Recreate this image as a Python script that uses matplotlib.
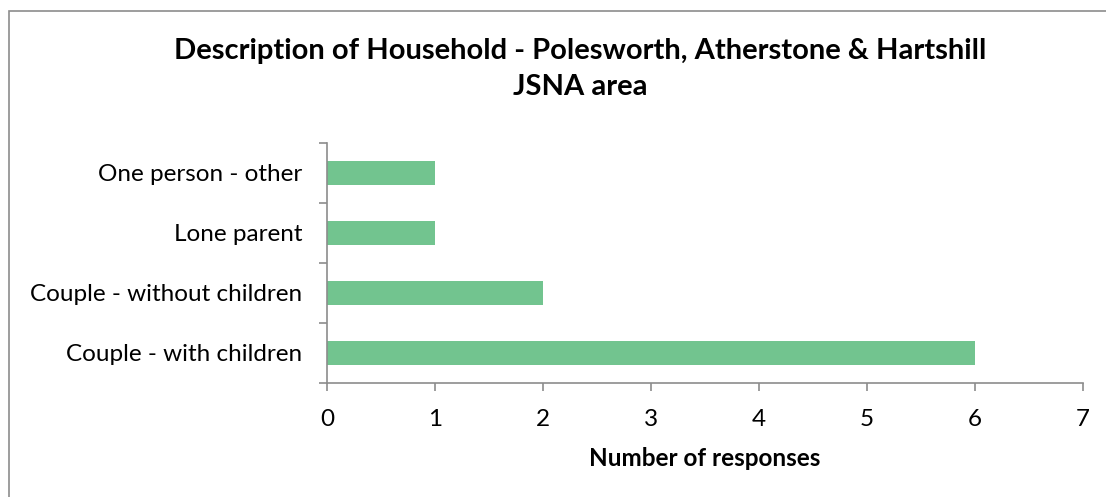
import matplotlib.pyplot as plt
from matplotlib.patches import Rectangle

plt.rcParams['font.family'] = ['Lato', 'DejaVu Sans']

categories = ['Couple - with children', 'Couple - without children', 'Lone parent', 'One person - other']
responses = [6, 2, 1, 1]
x_ticks = [0, 1, 2, 3, 4, 5, 6, 7]

bar_color = '#72C48F'
axis_color = '#8C8C8C'

fig = plt.figure(figsize=(11.06, 4.97), dpi=100)
ax = fig.add_axes([0.2957, 0.2294, 0.6835, 0.4829])

ax.barh(range(len(categories)), responses, height=0.4, color=bar_color)
ax.set_xlim(0, 7)
ax.set_ylim(-0.5, len(categories) - 0.5)
ax.set_xticks(x_ticks)
ax.tick_params(axis='x', length=6, width=1.2, color=axis_color, labelsize=17.5, pad=13)

# category labels sit between the tick marks
ax.set_yticks([i - 0.5 for i in range(len(categories) + 1)])
ax.set_yticklabels([])
ax.set_yticks(range(len(categories)), minor=True)
ax.set_yticklabels(categories, minor=True, fontsize=17.5)
ax.tick_params(axis='y', which='major', length=6, width=1.2, color=axis_color)
ax.tick_params(axis='y', which='minor', length=0, pad=18)

for side in ['top', 'right']:
    ax.spines[side].set_visible(False)
for side in ['left', 'bottom']:
    ax.spines[side].set_color(axis_color)
    ax.spines[side].set_linewidth(1.2)

ax.set_xlabel('Number of responses', fontsize=17.5, fontweight='bold', labelpad=12)

fig.text(0.525, 0.861, 'Description of Household - Polesworth, Atherstone & Hartshill\nJSNA area',
         ha='center', va='center', fontsize=21, fontweight='bold', linespacing=1.45)

fig.patches.append(Rectangle((9 / 1106, -0.05), 1.2, 1 - 11 / 497 + 0.05, transform=fig.transFigure,
                             fill=False, edgecolor='#8C8C8C', linewidth=1.2))

fig.savefig('out.png', dpi=100)
